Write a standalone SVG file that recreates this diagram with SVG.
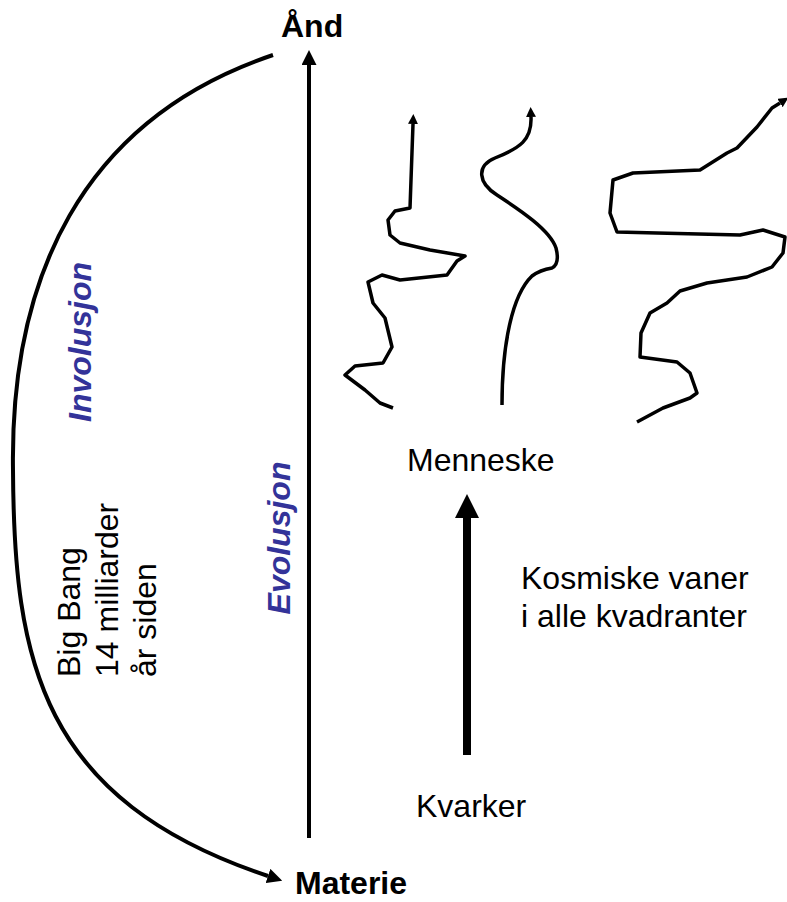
<svg xmlns="http://www.w3.org/2000/svg" width="787" height="902" viewBox="0 0 787 902">
<style>
text{font-family:"Liberation Sans",Arial,sans-serif;font-size:32px;fill:#000}
.b{font-weight:bold}
.blue{fill:#333399;font-weight:bold;font-style:italic}
.line{fill:none;stroke:#000;stroke-linecap:butt;stroke-linejoin:round}
</style>
<defs>
<marker id="hs" viewBox="0 0 10 10" refX="0" refY="5" markerUnits="userSpaceOnUse" markerWidth="10" markerHeight="10" orient="auto"><path d="M0,0 L10,5 L0,10 z" fill="#000"/></marker>
<marker id="hm" viewBox="0 0 10 10" refX="0" refY="5" markerUnits="userSpaceOnUse" markerWidth="15" markerHeight="15" orient="auto"><path d="M0,0 L10,5 L0,10 z" fill="#000"/></marker>
<marker id="hl" viewBox="0 0 10 10" refX="0" refY="5" markerUnits="userSpaceOnUse" markerWidth="25" markerHeight="24" orient="auto"><path d="M0,0 L10,5 L0,10 z" fill="#000"/></marker>
</defs>
<rect width="787" height="902" fill="#fff"/>
<g id="connectors">
<path id="involution-arc" class="line" stroke-width="4" d="M273,55 C80,120 10,280 13,470 C14,660 40,800 268,876" marker-end="url(#hm)"/>
<path id="evolution-axis" class="line" stroke-width="4" d="M309,838 L309,65" marker-end="url(#hm)"/>
<path id="kvarker-menneske" class="line" stroke-width="8" d="M467,755 L467,518" marker-end="url(#hl)"/>
<path id="squiggle1" class="line" stroke-width="3.5" marker-end="url(#hs)" d="M393,408 L380,403 L365,390 L345,375 L355,366 L383,363 L392,347 L385,318 L373,303 L368,282 L382,275 L400,280 L447,275 L457,261 L465,256 L430,250 L400,243 L390,235 L388,220 L395,211 L410,208 L413,124"/>
<path id="squiggle2" class="line" stroke-width="3.5" marker-end="url(#hs)" d="M502,405 C502,345 512,295 532,276 Q540,270 552,268 Q560,264 556,248 C550,230 520,210 497,195 C478,183 476,166 495,158 C520,148 532,140 531,117"/>
<path id="squiggle3" class="line" stroke-width="3.5" marker-end="url(#hs)" d="M637,422 L663,408 L690,398 L697,393 L690,373 L677,362 L640,357 L641,333 L650,313 L667,303 L680,291 L707,283 L747,277 L772,267 L783,253 L785,237 L763,230 L740,235 L657,233 L617,232 L610,213 L613,180 L633,173 L700,170 L727,153 L737,148 L757,127 L772,108 L780,103"/>
</g>
<g id="and"><text class="b" x="281" y="37">Ånd</text></g>
<g id="materie"><text class="b" x="295" y="894">Materie</text></g>
<g id="involusjon"><text class="blue" transform="translate(91,342) rotate(-90)" text-anchor="middle">Involusjon</text></g>
<g id="evolusjon"><text class="blue" transform="translate(290,538) rotate(-90)" text-anchor="middle">Evolusjon</text></g>
<g id="bigbang"><text transform="translate(80,677) rotate(-90)"><tspan x="0" y="0">Big Bang</tspan><tspan x="0" y="38">14 milliarder</tspan><tspan x="0" y="76">år siden</tspan></text></g>
<g id="menneske"><text x="407" y="471">Menneske</text></g>
<g id="kvarker"><text x="416" y="817">Kvarker</text></g>
<g id="kosmiske"><text x="521" y="589">Kosmiske vaner</text><text x="521" y="627">i alle kvadranter</text></g>
</svg>
